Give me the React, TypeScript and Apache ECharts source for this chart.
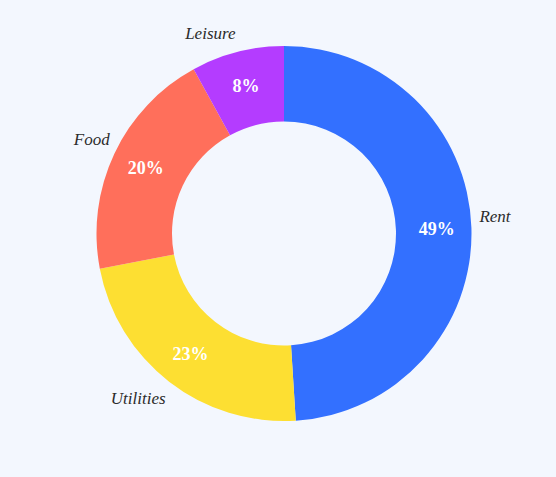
import React, { useEffect, useRef } from "react";
import * as echarts from "echarts";

const categories = ["Rent", "Utilities", "Food", "Leisure"];
const values = [49, 23, 20, 8];
const colors = ["#3370FF", "#FDDF32", "#FF6F5B", "#B43CFF"];

// outer-label placement (angle clockwise from top, distance from centre)
const labelAngles = [85.3, 221.4, 296.1, 339.8];
const labelRadii = [211.7, 220.5, 214.1, 213.3];

const CX = 284;
const CY = 233.5;

export default function App() {
  const ref = useRef<HTMLDivElement>(null);
  useEffect(() => {
    document.body.style.margin = "0";
    document.body.style.background = "#F3F7FE";
    const chart = echarts.init(ref.current!, undefined, { renderer: "svg" });
    const data = categories.map((name, i) => ({
      name,
      value: values[i],
      itemStyle: { color: colors[i] },
    }));
    chart.setOption({
      animation: false,
      backgroundColor: "#F3F7FE",
      series: [
        {
          type: "pie",
          center: [CX, CY],
          radius: [112, 187.5],
          startAngle: 90,
          clockwise: true,
          avoidLabelOverlap: false,
          silent: true,
          label: {
            show: true,
            position: "inside",
            formatter: "{d}%",
            color: "#ffffff",
            fontFamily: "Liberation Serif, serif",
            fontWeight: "bold",
            fontSize: 18,
          },
          labelLine: { show: false },
          data,
        },
        {
          type: "pie",
          center: [CX, CY],
          radius: [112, 187.5],
          startAngle: 90,
          clockwise: true,
          avoidLabelOverlap: false,
          silent: true,
          itemStyle: { color: "rgba(0,0,0,0)" },
          label: {
            show: true,
            position: "outside",
            formatter: "{b}",
            color: "#2b2b2b",
            fontFamily: "Liberation Serif, serif",
            fontStyle: "italic",
            fontSize: 17,
          },
          labelLine: { show: false },
          labelLayout: (params: any) => {
            const i = params.dataIndex;
            const a = (labelAngles[i] * Math.PI) / 180;
            const r = labelRadii[i];
            return {
              x: CX + r * Math.sin(a),
              y: CY - r * Math.cos(a),
              align: "center",
              verticalAlign: "middle",
            };
          },
          data: categories.map((name, i) => ({ name, value: values[i] })),
        },
      ],
    });
    return () => chart.dispose();
  }, []);
  return (
    <div
      ref={ref}
      style={{
        position: "fixed",
        left: 0,
        top: 0,
        width: 556,
        height: 477,
        background: "#F3F7FE",
      }}
    />
  );
}
